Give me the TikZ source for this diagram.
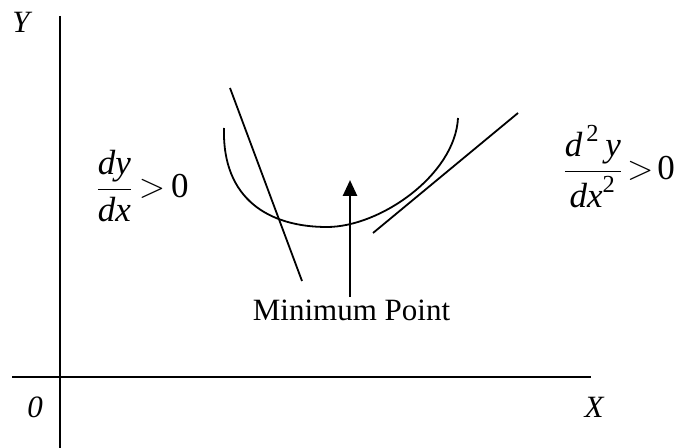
\documentclass[tikz,border=0pt]{standalone}
\usepackage{fontspec}
\setmainfont{Liberation Serif}
\usepackage{amsmath}
\usetikzlibrary{arrows.meta, positioning}
\tikzset{
  axis/.style={line width=1.3pt},
  crv/.style={line width=0.9pt},
  arr/.style={
    -{Triangle[length=8pt,width=7pt]},
    line width=1.3pt,
  },
  lbl/.style={
    font=\fontsize{15.5}{18}\selectfont,
    inner sep=0pt,
  },
  ilbl/.style={lbl, font=\fontsize{15.5}{18}\selectfont\itshape},
  mlbl/.style={lbl, anchor=base west, font=\fontsize{17.5}{21}\selectfont},
}

\begin{document}
\begin{tikzpicture}[x=0.5pt,y=-0.5pt]
    \useasboundingbox (0,0) rectangle (678,448);

    % axes
    \coordinate (ytop) at (60,16);
    \coordinate (ybot) at (60,448);
    \coordinate (xlft) at (12,377);
    \coordinate (xrgt) at (591,377);
    \draw[axis] (ytop) -- (ybot);
    \draw[axis] (xlft) -- (xrgt);
    \node[ilbl] (ylab) at (21,22)  {Y};
    \node[ilbl] (olab) at (35,407) {0};
    \node[ilbl] (xlab) at (594,407){X};

    % curve and lines
    \draw[crv] (224,128) .. controls (222,200) and (270,227) .. (327,227)
                         .. controls (380,227) and (455,175) .. (458,118);
    \coordinate (s1) at (230,88);  \coordinate (s2) at (302,281);
    \coordinate (t1) at (373,233); \coordinate (t2) at (518,113);
    \draw[crv] (s1) -- (s2);
    \draw[crv] (t1) -- (t2);

    % minimum point
    \node[lbl,anchor=base,inner sep=1pt] (mp) at (351.5,320) {Minimum Point};
    \coordinate (tip) at (350,180);
    \draw[arr] (tip |- mp.north) -- (tip);

    % derivatives
    \node[mlbl] (fd) at (95,198)
      {$\dfrac{\textit{dy}}{\textit{dx}}\mkern3mu{>}\mkern3mu\text{0}$};
    \node[mlbl] (sd) at (562,180)
      {$\dfrac{\textit{d}^{\,\text{2}}\,\textit{y}}{\textit{dx}^{\text{2}}}\mkern2mu{>}\mkern2mu\text{0}$};
\end{tikzpicture}
\end{document}
